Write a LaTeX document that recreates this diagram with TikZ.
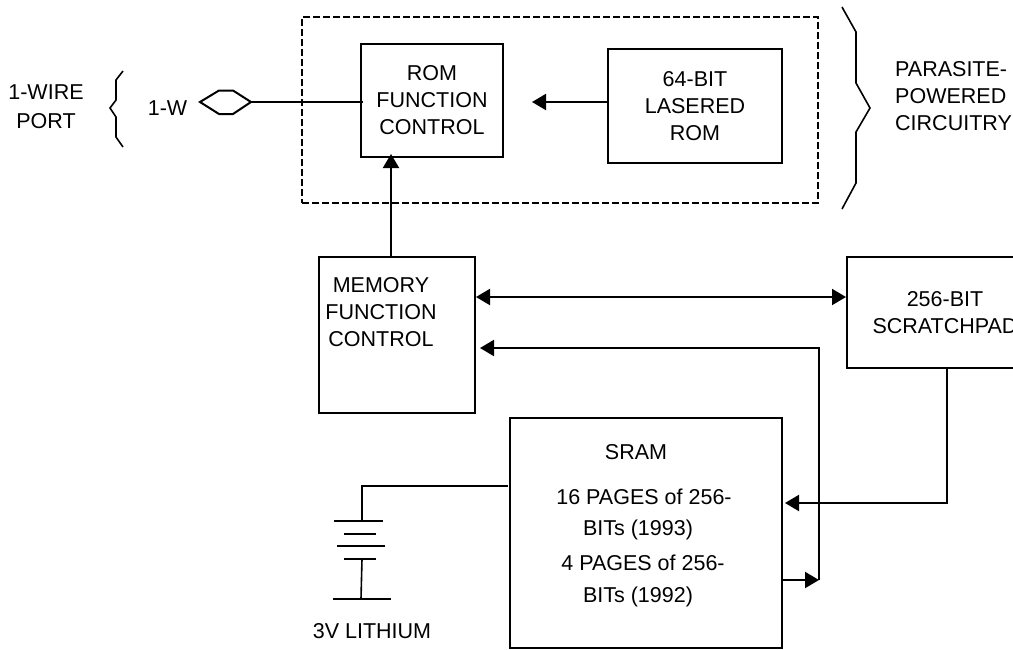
\documentclass[tikz,border=0pt]{standalone}
\usepackage{fontspec}
\setmainfont{Liberation Sans}
\usetikzlibrary{arrows.meta,calc}
\tikzset{
  wire/.style={line width=2pt,line join=miter},
  thin wire/.style={line width=1.6pt},
  flow/.style={wire,-{Triangle[length=14pt,width=16pt]}},
  biflow/.style={wire,{Triangle[length=14pt,width=16pt]}-{Triangle[length=14pt,width=16pt]}},
  box/.style={draw,line width=2pt,inner sep=0pt,align=center,font=\fontsize{21.5}{27}\selectfont},
  label/.style={inner sep=0pt,align=center,font=\fontsize{21.5}{27}\selectfont},
  dashbox/.style={draw,line width=2.5pt,dash pattern=on 7pt off 3pt,inner sep=0pt},
}
\begin{document}
\begin{tikzpicture}[x=1pt,y=-1pt]
\useasboundingbox (0,0) rectangle (1013,649);
\clip (0,0) rectangle (1013,649);

% boxes
\node[dashbox,minimum width=516pt,minimum height=186pt] (para) at (560,110) {};
\node[box,minimum width=142pt,minimum height=113pt] (rom) at (432,100.5) {ROM\\FUNCTION\\CONTROL};
\node[box,minimum width=174pt,minimum height=114pt] (lasered) at (695,106) {64-BIT\\LASERED\\ROM};
\node[box,minimum width=156pt,minimum height=156pt] (mem) at (397,335) {};
\node[label] (memtext) at (381,312.5) {MEMORY\\FUNCTION\\CONTROL};
\node[box,minimum width=196pt,minimum height=111pt] (scratch) at (945,312.5) {256-BIT\\SCRATCHPAD};
\node[box,minimum width=272pt,minimum height=230pt] (sram) at (646,533) {};
\node[label] (sramtitle) at (636,452) {SRAM};
\node[label] (pagesa) at (644,497) {16 PAGES of 256-};
\node[label] (bitsa) at (638,530) {BITs (1993)};
\node[label] (pagesb) at (643,563) {4 PAGES of 256-};
\node[label] (bitsb) at (638,597) {BITs (1992)};

% outer labels
\node[label] (port) at (46,107) {1-WIRE\\[2pt]PORT};
\node[label] (onew) at (167.5,108) {1-W};
\node[label,align=left,anchor=west] (parasite) at (895,96) {PARASITE-\\POWERED\\CIRCUITRY};
\node[label] (lith) at (372,631) {3V LITHIUM};

% braces
\draw[thin wire] (123,71) -- (116,80) -- (116,100) -- (110,108) -- (116,117) -- (116,137) -- (123,147);
\draw[thin wire] (842,7) -- (856,32) -- (856,83) -- (870,108) -- (856,132) -- (856,183) -- (842,209);

% 1-wire pin
\draw[wire] (200,102) -- (219,90.5) -- (233,90.5) -- (251,102) -- (233,114) -- (219,114) -- cycle;
\coordinate (pin) at (251,102);
\coordinate (romstub) at ($(rom.west |- pin)+(3,0)$);
\draw[wire] (pin) -- (romstub);

% connectors
\coordinate (lasl) at (lasered.west |- 0,102);
\coordinate (romr) at ($(rom.east |- lasl)+(28,0)$);
\draw[flow] (lasl) -- (romr);
\coordinate (memtop) at (391,257);
\coordinate (rombot) at (391,154);
\draw[flow] (memtop) -- (rombot);
\coordinate (memr) at (476,297);
\draw[biflow] (memr) -- (scratch.west |- memr);
\coordinate (busend) at (819,580);
\coordinate (busmem) at (480,348);
\draw[flow] (busend) -- (busend |- busmem) -- (busmem);
\coordinate (sramr) at (sram.east |- busend);
\draw[flow] (sramr) -- (busend);
\coordinate (scrbot) at (947,368);
\coordinate (sramin) at (785,503);
\draw[flow] (scrbot) -- (scrbot |- sramin) -- (sramin);

% battery
\coordinate (batin) at (508,486);
\coordinate (battop) at (362,521);
\coordinate (batbot) at (361,599);
\draw[wire] (batin) -- (battop |- batin) -- (battop);
\draw[wire] (334,521) -- (383,521);
\draw[wire] (344,534) -- (376,534);
\draw[wire] (337,546) -- (385,546);
\draw[wire] (344,559) -- (376,559);
\draw[thin wire] (362,559) -- (batbot);
\draw[thin wire] (333,599) -- (391,599);
\end{tikzpicture}
\end{document}
